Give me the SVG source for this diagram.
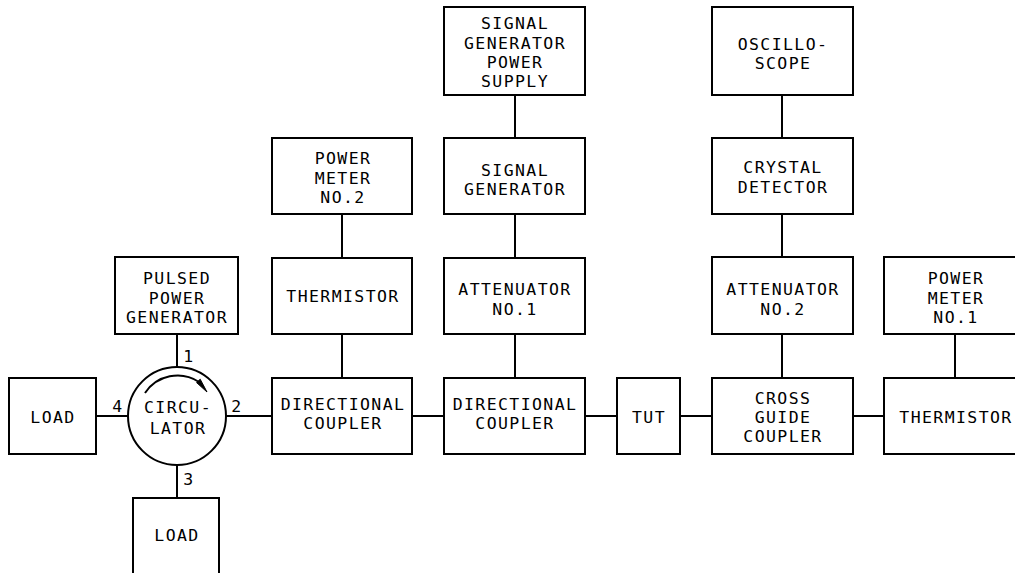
<svg xmlns="http://www.w3.org/2000/svg" width="1015" height="573" viewBox="0 0 1015 573">
<style>
.box{fill:#fff;stroke:#000;stroke-width:2}
.ln{fill:none;stroke:#000;stroke-width:2}
text{font-family:"DejaVu Sans Mono","Liberation Mono",monospace;font-size:16.5px;letter-spacing:1.4px;fill:#000;text-anchor:middle}
</style>
<rect width="1015" height="573" fill="#fff"/>
<g id="connectors">
<line class="ln" x1="96" y1="416" x2="128" y2="416"/>
<line class="ln" x1="226" y1="416" x2="272" y2="416"/>
<line class="ln" x1="412" y1="416" x2="444" y2="416"/>
<line class="ln" x1="585" y1="416" x2="617" y2="416"/>
<line class="ln" x1="680" y1="416" x2="712" y2="416"/>
<line class="ln" x1="853" y1="416" x2="884" y2="416"/>
<line class="ln" x1="177" y1="334" x2="177" y2="367"/>
<line class="ln" x1="177" y1="466" x2="177" y2="498"/>
<line class="ln" x1="342" y1="214" x2="342" y2="258"/>
<line class="ln" x1="342" y1="334" x2="342" y2="378"/>
<line class="ln" x1="515" y1="95" x2="515" y2="138"/>
<line class="ln" x1="515" y1="214" x2="515" y2="258"/>
<line class="ln" x1="515" y1="334" x2="515" y2="378"/>
<line class="ln" x1="782" y1="95" x2="782" y2="138"/>
<line class="ln" x1="782" y1="214" x2="782" y2="257"/>
<line class="ln" x1="782" y1="334" x2="782" y2="378"/>
<line class="ln" x1="955" y1="334" x2="955" y2="378"/>
<text x="189" y="362">1</text>
<text x="237" y="412">2</text>
<text x="189" y="485">3</text>
<text x="118" y="412">4</text>
</g>
<g id="load-left">
<rect class="box" x="9" y="378" width="87" height="76"/>
<text x="53" y="423">LOAD</text>
</g>
<g id="load-bottom">
<rect class="box" x="133" y="498" width="86" height="90"/>
<text x="177" y="541">LOAD</text>
</g>
<g id="pulsed-power-generator">
<rect class="box" x="115" y="257" width="123" height="77"/>
<text x="177" y="284">PULSED</text>
<text x="177" y="304">POWER</text>
<text x="177" y="323">GENERATOR</text>
</g>
<g id="circulator">
<circle class="ln" cx="177" cy="416" r="49" fill="#fff"/>
<path class="ln" d="M145,393 A39,39 0 0 1 199,382" stroke-width="1.6"/>
<polygon points="207,392 200.2,379.2 196.6,382.6" fill="#000" stroke="#000" stroke-width="1"/>
<text x="178" y="413">CIRCU-</text>
<text x="178" y="434">LATOR</text>
</g>
<g id="power-meter-2">
<rect class="box" x="272" y="138" width="140" height="76"/>
<text x="343" y="164">POWER</text>
<text x="343" y="184">METER</text>
<text x="343" y="203">NO.2</text>
</g>
<g id="thermistor-1">
<rect class="box" x="272" y="258" width="140" height="76"/>
<text x="343" y="302">THERMISTOR</text>
</g>
<g id="directional-coupler-1">
<rect class="box" x="272" y="378" width="140" height="76"/>
<text x="343" y="410">DIRECTIONAL</text>
<text x="343" y="429">COUPLER</text>
</g>
<g id="signal-generator-power-supply">
<rect class="box" x="444" y="7" width="141" height="88"/>
<text x="515" y="29">SIGNAL</text>
<text x="515" y="49">GENERATOR</text>
<text x="515" y="68">POWER</text>
<text x="515" y="87">SUPPLY</text>
</g>
<g id="signal-generator">
<rect class="box" x="444" y="138" width="141" height="76"/>
<text x="515" y="176">SIGNAL</text>
<text x="515" y="195">GENERATOR</text>
</g>
<g id="attenuator-1">
<rect class="box" x="444" y="258" width="141" height="76"/>
<text x="515" y="295">ATTENUATOR</text>
<text x="515" y="315">NO.1</text>
</g>
<g id="directional-coupler-2">
<rect class="box" x="444" y="378" width="141" height="76"/>
<text x="515" y="410">DIRECTIONAL</text>
<text x="515" y="429">COUPLER</text>
</g>
<g id="tut">
<rect class="box" x="617" y="378" width="63" height="76"/>
<text x="649" y="423">TUT</text>
</g>
<g id="oscilloscope">
<rect class="box" x="712" y="7" width="141" height="88"/>
<text x="783" y="50">OSCILLO-</text>
<text x="783" y="69">SCOPE</text>
</g>
<g id="crystal-detector">
<rect class="box" x="712" y="138" width="141" height="76"/>
<text x="783" y="173">CRYSTAL</text>
<text x="783" y="193">DETECTOR</text>
</g>
<g id="attenuator-2">
<rect class="box" x="712" y="257" width="141" height="77"/>
<text x="783" y="295">ATTENUATOR</text>
<text x="783" y="315">NO.2</text>
</g>
<g id="cross-guide-coupler">
<rect class="box" x="712" y="378" width="141" height="76"/>
<text x="783" y="404">CROSS</text>
<text x="783" y="423">GUIDE</text>
<text x="783" y="442">COUPLER</text>
</g>
<g id="power-meter-1">
<rect class="box" x="884" y="257" width="142" height="77"/>
<text x="956" y="284">POWER</text>
<text x="956" y="304">METER</text>
<text x="956" y="323">NO.1</text>
</g>
<g id="thermistor-2">
<rect class="box" x="884" y="378" width="142" height="76"/>
<text x="956" y="423">THERMISTOR</text>
</g>
</svg>
